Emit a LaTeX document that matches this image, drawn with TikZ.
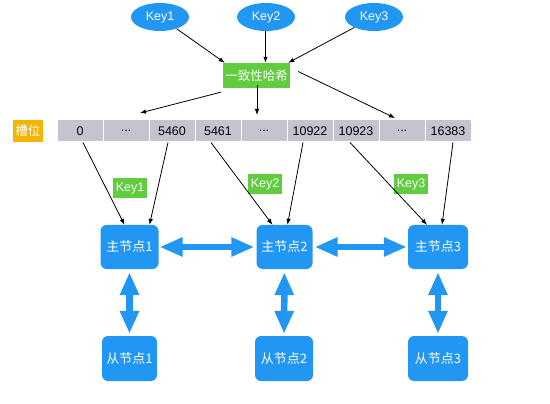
\documentclass[tikz,border=0pt]{standalone}
\usepackage{fontspec}
\setmainfont{Liberation Sans}
\newfontfamily\cjk{Noto Sans CJK SC}
\usetikzlibrary{shapes.geometric,arrows.meta}
\definecolor{nodeblue}{RGB}{33,150,243}
\definecolor{hashgreen}{RGB}{96,204,62}
\definecolor{slotgray}{RGB}{196,196,208}
\definecolor{slotorange}{RGB}{246,180,0}
\newcommand{\slotdots}{...}

\begin{document}
\begin{tikzpicture}[x=1pt, y=-1pt, font=\fontsize{12.5}{14}\selectfont,
  keynode/.style={ellipse, fill=nodeblue, text=white, minimum width=58pt, minimum height=28pt, inner sep=0pt},
  greenbox/.style={fill=hashgreen, text=white, inner sep=0pt},
  slotbox/.style={fill=slotgray, draw=white, line width=1pt, minimum width=46pt, minimum height=22pt, inner sep=0pt},
  server/.style={fill=nodeblue, text=white, rounded corners=6pt, minimum width=58pt, minimum height=44pt, inner sep=0pt, font=\cjk\fontsize{13}{15}\selectfont},
  arr/.style={-{Latex[length=6pt,width=4.5pt]}, line width=0.8pt},
  link/.style={{Triangle[length=23pt,width=18pt]}-{Triangle[length=23pt,width=18pt]}, line width=6.5pt, nodeblue}]
\useasboundingbox (0,0) rectangle (550,404);
\node[keynode] (k1) at (160,17) {Key1};
\node[keynode] (k2) at (266,17) {Key2};
\node[keynode] (k3) at (374,17) {Key3};
\node[greenbox, minimum width=67pt, minimum height=25pt, font=\cjk\fontsize{12.5}{14}\selectfont] (hash) at (256.5,75.5) {一致性哈希};
\draw[arr] (k1) -- ([xshift=2pt]hash.north west);
\draw[arr] ([xshift=9pt]k2.south -| hash.north) -- ([xshift=9pt]hash.north);
\draw[arr] (k3) -- ([xshift=-2pt]hash.north east);
% slots
\node[fill=slotorange, text=white, minimum width=30pt, minimum height=22pt, inner sep=0pt, font=\cjk\fontsize{12.5}{14}\selectfont] (slotlabel) at (28,131) {槽位};
\foreach \lbl [count=\i] in {0,\slotdots,5460,5461,\slotdots,10922,10923,\slotdots,16383}
  \node[slotbox] (s\i) at ({80+46*(\i-1)},131) {\lbl};
\coordinate (h1) at (140,113);
\coordinate (h2) at (257,115);
\coordinate (h3) at (395,118);
\draw[arr] ([xshift=-2pt,yshift=-4pt]hash.south west) -- (h1);
\draw[arr] ([xshift=0.5pt,yshift=3pt]hash.south) -- (h2);
\draw[arr] ([xshift=8pt,yshift=4pt]hash.east) -- (h3);
% masters and slaves
\node[server] (m1) at (129.5,247) {主节点1};
\node[server, minimum width=56pt] (m2) at (284.5,247) {主节点2};
\node[server, minimum width=60pt] (m3) at (438,247) {主节点3};
\node[server, minimum width=55pt, minimum height=45pt] (sl1) at (129.5,358.5) {从节点1};
\node[server, minimum width=58pt, minimum height=45pt] (sl2) at (284,358.5) {从节点2};
\node[server, minimum width=60pt, minimum height=45pt] (sl3) at (438,358.5) {从节点3};
\node[greenbox, minimum width=34pt, minimum height=20pt] (key1) at (130,188) {Key1};
\node[greenbox, minimum width=34pt, minimum height=20pt] (key2) at (265,184) {Key2};
\node[greenbox, minimum width=34pt, minimum height=20pt] (key3) at (411,184) {Key3};
\draw[arr] ([xshift=3pt]s1.south) -- ([xshift=-5pt]m1.north);
\draw[arr] ([xshift=-4pt]s3.south) -- ([xshift=20pt]m1.north);
\draw[arr] ([xshift=-7pt]s4.south) -- ([xshift=-12pt]m2.north);
\draw[arr] ([xshift=-7pt]s6.south) -- ([xshift=3pt]m2.north);
\draw[arr] ([xshift=-6pt]s7.south) -- ([xshift=-11pt]m3.north);
\draw[arr] ([xshift=5pt]s9.south) -- ([xshift=4pt]m3.north);
\draw[link, shorten <=1pt, shorten >=2pt] (m1) -- (m2);
\draw[link, shorten <=2pt, shorten >=1pt] (m2) -- (m3);
\draw[link, shorten <=3pt, shorten >=2pt] (m1) -- (sl1);
\draw[link, shorten <=3pt, shorten >=2pt] (m2) -- (sl2);
\draw[link, shorten <=3pt, shorten >=2pt] (m3) -- (sl3);
\end{tikzpicture}
\end{document}
